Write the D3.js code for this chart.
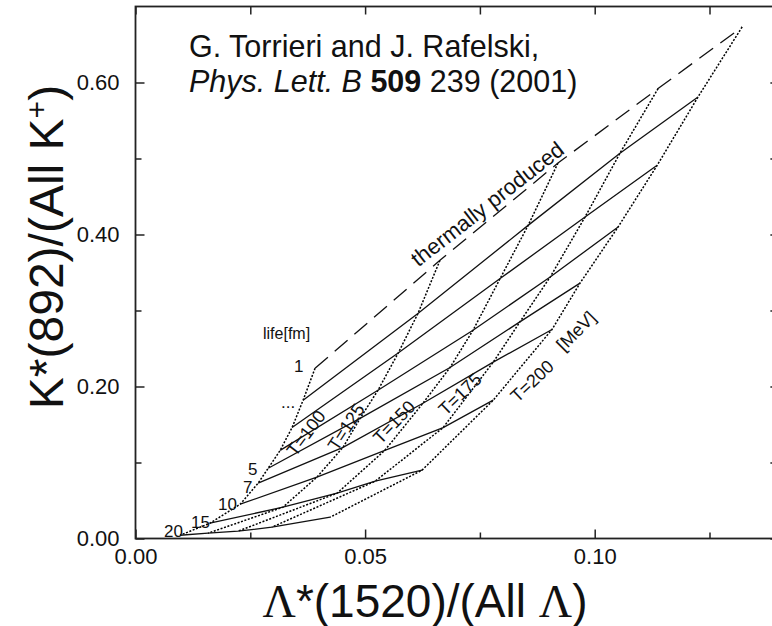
<!DOCTYPE html>
<html>
<head>
<meta charset="utf-8">
<script src="https://cdn.jsdelivr.net/npm/d3@7"></script>
<style>
  html, body { margin: 0; padding: 0; background: #fff; }
  svg { display: block; }
  text { font-family: "Liberation Sans", Arial, Helvetica, sans-serif; fill: #111; }
</style>
</head>
<body>
<svg id="chart" width="772" height="626"></svg>
<script>
// ---- Data ----
const temperatures = [100, 125, 150, 175, 200];          // MeV, constant-T dotted curves
const lifetimes    = [1, 2, 3, 4, 5, 7, 10, 15, 20];    // fm, constant-lifetime lines
// Λ*(1520)/(All Λ): rows = lifetime, columns = temperature
const lambdaRatio = [
  [0.0391, 0.0663, 0.0920, 0.1138, 0.1321],
  [0.0365, 0.0615, 0.0855, 0.1055, 0.1225],
  [0.0341, 0.0572, 0.0794, 0.0979, 0.1136],
  [0.0315, 0.0528, 0.0735, 0.0903, 0.1051],
  [0.0289, 0.0489, 0.0685, 0.0837, 0.0968],
  [0.0267, 0.0452, 0.0626, 0.0779, 0.0907],
  [0.0228, 0.0395, 0.0543, 0.0670, 0.0779],
  [0.0162, 0.0321, 0.0439, 0.0522, 0.0624],
  [0.0097, 0.0158, 0.0223, 0.0297, 0.0424]
];
// K*(892)/(All K+): rows = lifetime, columns = temperature
const kstarRatio = [
  [0.224,  0.366,  0.494,  0.592,  0.673],
  [0.182,  0.296,  0.412,  0.507,  0.581],
  [0.146,  0.244,  0.342,  0.423,  0.491],
  [0.116,  0.195,  0.274,  0.344,  0.410],
  [0.0925, 0.158,  0.225,  0.285,  0.336],
  [0.0728, 0.120,  0.178,  0.232,  0.275],
  [0.0451, 0.0807, 0.116,  0.146,  0.182],
  [0.0201, 0.0412, 0.0596, 0.0754, 0.0899],
  [0.0043, 0.0070, 0.0096, 0.0149, 0.0280]
];
const xMajorTicks = [0, 0.05, 0.10];
const xMinorTicks = [0.025, 0.075, 0.125];
const yMajorTicks = [0, 0.2, 0.4, 0.6];
const yMinorTicks = [0.1, 0.3, 0.5];
const xDomain = [0, 0.14];
const yDomain = [0, 0.7];

// ---- Layout ----
const svg = d3.select("#chart");
const pLeft = 135.5, pTop = 6.5, pBottom = 538.5;
const pRight = pLeft + 0.14 * 4592;

const x = d3.scaleLinear().domain(xDomain).range([pLeft, pRight]);
const y = d3.scaleLinear().domain(yDomain).range([pBottom, pTop]);

// ---- Lines ----
const g = svg.append("g");
const line = d3.line().x(d => x(d[0])).y(d => y(d[1]));

// constant-temperature curves (dotted)
temperatures.forEach((T, j) => {
  const pts = lifetimes.map((L, i) => [lambdaRatio[i][j], kstarRatio[i][j]]);
  g.append("path").attr("d", line(pts))
    .attr("fill", "none").attr("stroke", "#000").attr("stroke-width", 1.5)
    .attr("stroke-dasharray", "2,1.6");
});

// constant-lifetime lines (first one dashed = thermally produced)
lifetimes.forEach((L, i) => {
  const pts = temperatures.map((T, j) => [lambdaRatio[i][j], kstarRatio[i][j]]);
  const p = g.append("path").attr("d", line(pts))
    .attr("fill", "none").attr("stroke", "#111").attr("stroke-width", 1.3);
  if (i === 0) p.attr("stroke-dasharray", "17,9");
});

// ---- Axes ----
const axG = svg.append("g");
function styleAxis(sel) {
  sel.select(".domain").remove();
  sel.selectAll(".tick line").attr("stroke", "#222").attr("stroke-width", 1.5);
  sel.selectAll("text").attr("fill", "#222").style("font-size", "22px")
     .style("font-family", '"Liberation Sans", Arial, sans-serif');
}
axG.append("g").attr("transform", `translate(0,${pBottom})`)
  .call(d3.axisBottom(x).tickValues(xMajorTicks).tickSizeInner(-9).tickSizeOuter(0)
        .tickPadding(10).tickFormat(d3.format(".2f"))).call(styleAxis);
axG.append("g").attr("transform", `translate(0,${pBottom})`)
  .call(d3.axisBottom(x).tickValues(xMinorTicks).tickSizeInner(-6).tickSizeOuter(0)
        .tickFormat("")).call(styleAxis);
axG.append("g").attr("transform", `translate(0,${pTop})`)
  .call(d3.axisTop(x).tickValues(xMajorTicks.concat(xMinorTicks)).tickSizeInner(-8)
        .tickSizeOuter(0).tickFormat("")).call(styleAxis);
axG.append("g").attr("transform", `translate(${pLeft},0)`)
  .call(d3.axisLeft(y).tickValues(yMajorTicks).tickSizeInner(-9).tickSizeOuter(0)
        .tickPadding(16).tickFormat(d3.format(".2f"))).call(styleAxis);
axG.append("g").attr("transform", `translate(${pLeft},0)`)
  .call(d3.axisLeft(y).tickValues(yMinorTicks).tickSizeInner(-6).tickSizeOuter(0)
        .tickFormat("")).call(styleAxis);
axG.append("g").attr("transform", `translate(${pRight},0)`)
  .call(d3.axisRight(y).tickValues(yMajorTicks.concat(yMinorTicks)).tickSizeInner(-8)
        .tickSizeOuter(0).tickFormat("")).call(styleAxis);

// frame
svg.append("rect").attr("x", pLeft).attr("y", pTop)
  .attr("width", pRight - pLeft).attr("height", pBottom - pTop)
  .attr("fill", "none").attr("stroke", "#222").attr("stroke-width", 1.8);

// ---- Axis titles ----
const yTitle = svg.append("text")
  .attr("transform", "translate(63,247) rotate(-90)")
  .attr("text-anchor", "middle").style("font-size", "48px");
yTitle.append("tspan").text("K*(892)/(All K");
yTitle.append("tspan").text("+").attr("baseline-shift", "super").style("font-size", "30px");
yTitle.append("tspan").text(")");

const xTitle = svg.append("text").attr("x", 425).attr("y", 617)
  .attr("text-anchor", "middle").style("font-size", "46px");
xTitle.append("tspan").text("Λ").style("font-family", '"Liberation Serif", "Times New Roman", serif');
xTitle.append("tspan").text("*(1520)/(All ");
xTitle.append("tspan").text("Λ").style("font-family", '"Liberation Serif", "Times New Roman", serif');
xTitle.append("tspan").text(")");

// ---- Citation ----
svg.append("text").attr("x", 189).attr("y", 57).style("font-size", "30.5px")
  .text("G. Torrieri and J. Rafelski,");
const cit = svg.append("text").attr("x", 189).attr("y", 92).style("font-size", "30.5px");
cit.append("tspan").text("Phys. Lett. B ").style("font-style", "italic");
cit.append("tspan").text("509").style("font-weight", "bold");
cit.append("tspan").text(" 239 (2001)");

// ---- Annotations ----
svg.append("text").attr("x", 263).attr("y", 339).style("font-size", "16px").text("life[fm]");
const lifeLabels = [
  {t: "1",   x: 294, y: 372},
  {t: "...", x: 281, y: 408},
  {t: "5",   x: 248, y: 475},
  {t: "7",   x: 243, y: 493},
  {t: "10",  x: 218, y: 510},
  {t: "15",  x: 191, y: 528},
  {t: "20",  x: 164, y: 537}
];
lifeLabels.forEach(d => svg.append("text").attr("x", d.x).attr("y", d.y)
  .style("font-size", "17px").text(d.t));

const tLabels = [
  {t: "T=100", x: 306, y: 433, a: -53},
  {t: "T=125", x: 346, y: 427, a: -57},
  {t: "T=150", x: 394, y: 422, a: -46},
  {t: "T=175", x: 460, y: 394, a: -44},
  {t: "T=200", x: 532, y: 381, a: -43},
  {t: "[MeV]", x: 576, y: 331, a: -45}
];
tLabels.forEach(d => svg.append("text")
  .attr("transform", `translate(${d.x},${d.y}) rotate(${d.a})`)
  .attr("text-anchor", "middle").attr("dy", "0.35em")
  .style("font-size", "18px").text(d.t));

svg.append("text").attr("transform", "translate(492,210) rotate(-38)")
  .attr("text-anchor", "middle").style("font-size", "22px").text("thermally produced");
</script>
</body>
</html>
